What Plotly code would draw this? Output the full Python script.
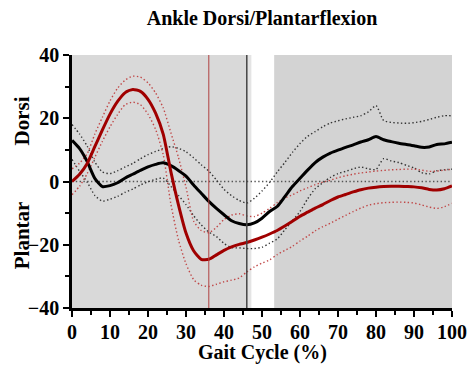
import plotly.graph_objects as go

gait = list(range(0, 101, 2))

red_mean = [0, 2.3, 5.7, 11.0, 16.3, 21.3, 25.3, 28.1, 29.1, 28.5,
            26.0, 21.6, 15.0, 3.2, -7.3, -16.3, -21.9, -24.6, -24.6, -23.2,
            -21.8, -20.7, -19.9, -19.3, -18.5, -17.6, -16.6, -15.5, -14.1, -12.6,
            -11.0, -9.7, -8.4, -7.3, -6.0, -4.9, -4.1, -3.3, -2.6, -2.1,
            -1.8, -1.6, -1.5, -1.5, -1.6, -1.7, -2.0, -2.5, -2.7, -2.3, -1.4]
red_upper = [4.0, 5.8, 8.8, 15.0, 20.3, 25.5, 29.5, 32.1, 33.3, 33.0,
             31.2, 28.0, 23.3, 15.5, 7.7, -1.8, -12.5, -15.5, -16.2, -14.5,
             -12.0, -10.6, -10.2, -10.9, -11.1, -10.0, -8.5, -6.7, -5.2, -4.2,
             -3.0, -2.0, -1.0, -0.2, 0.4, 1.2, 1.8, 2.3, 2.7, 3.0,
             3.3, 3.5, 3.7, 3.8, 3.9, 3.9, 3.6, 3.2, 3.3, 3.6, 3.9]
red_lower = [-4.2, -1.5, 2.5, 7.6, 12.7, 17.3, 21.2, 24.3, 25.1, 24.3,
             21.3, 16.5, 8.5, -7.0, -18.4, -26.0, -31.0, -32.8, -33.2, -32.5,
             -31.7, -31.2, -30.5, -28.6, -27.0, -25.8, -24.8, -23.1, -21.8, -20.5,
             -18.8, -17.3, -15.6, -14.3, -13.2, -11.9, -10.7, -9.5, -8.4, -7.5,
             -7.0, -6.7, -6.6, -6.5, -6.6, -6.8, -7.4, -8.1, -8.5, -8.0, -6.9]

black_mean = [13.0, 10.4, 6.3, 1.0, -1.6, -1.3, -0.4, 1.1, 2.3, 3.5,
              4.6, 5.4, 5.9, 5.0, 3.5, 1.7, -1.1, -3.7, -6.3, -8.5,
              -10.5, -12.4, -13.3, -13.7, -13.1, -11.6, -9.5, -7.9, -4.8, -1.6,
              1.0, 3.6, 6.0, 7.7, 9.0, 9.9, 10.8, 11.6, 12.5, 13.2,
              14.2, 13.2, 12.6, 12.1, 11.7, 11.3, 10.8, 10.9, 11.7, 11.9, 12.4]
black_upper = [18.0, 15.0, 11.2, 6.2, 3.0, 2.5, 3.4, 4.6, 5.7, 7.2,
               8.5, 9.5, 10.4, 11.0, 10.5, 9.4, 7.5, 5.3, 3.3, 0.5,
               -2.5, -4.5, -6.0, -6.8, -5.3, -3.0, -0.3, 3.0, 6.0, 9.2,
               12.0, 14.3, 15.8, 17.3, 18.5, 19.2, 19.8, 20.3, 20.8, 22.0,
               24.0, 19.3, 18.7, 18.5, 18.4, 18.6, 19.0, 19.6, 20.3, 20.8, 20.8]
black_lower = [7.0, 3.2, -0.2, -4.4, -6.2, -5.6, -4.7, -3.4, -2.4, -1.1,
               -0.1, 0.7, 1.1, -1.5, -4.4, -7.3, -10.8, -13.7, -16.0, -17.4,
               -19.6, -20.9, -21.0, -21.2, -21.2, -20.8, -19.5, -18.2, -15.3, -12.4,
               -9.5, -5.5, -2.3, -0.4, 1.3, 2.5, 3.2, 4.0, 4.6, 4.0,
               3.8, 7.2, 6.5, 6.0, 5.1, 4.3, 2.8, 2.4, 3.4, 3.7, 3.9]

stance_red_end = 47.2
stance_black_end = 46.0
swing_start = 53.2
red_event = 36.0
black_event = 46.0

x_ticks = list(range(0, 101, 10))
y_ticks = [-40, -20, 0, 20, 40]

SERIF = "Liberation Serif"
RED = "#a00000"
RED_BAND = "#c04848"
BLK_BAND = "#333333"
DOT = "1.4px,2.4px"

fig = go.Figure()

# shading
fig.add_shape(type="rect", xref="x", yref="y", x0=0, x1=stance_red_end, y0=-40, y1=40,
              fillcolor="#e4e4e4", line_width=0, layer="below")
fig.add_shape(type="rect", xref="x", yref="y", x0=0, x1=stance_black_end, y0=-40, y1=40,
              fillcolor="#d9d9d9", line_width=0, layer="below")
fig.add_shape(type="rect", xref="x", yref="y", x0=swing_start, x1=100, y0=-40, y1=40,
              fillcolor="#d3d3d3", line_width=0, layer="below")
# zero line
fig.add_shape(type="line", xref="x", yref="y", x0=0, x1=100, y0=0, y1=0,
              line=dict(color="#555555", width=1.3, dash=DOT), layer="below")
# event lines
fig.add_shape(type="line", xref="x", yref="y", x0=red_event, x1=red_event, y0=-40, y1=40,
              line=dict(color="#b04040", width=1))
fig.add_shape(type="line", xref="x", yref="y", x0=black_event, x1=black_event, y0=-40, y1=40,
              line=dict(color="#444444", width=1.5))

for ys in (black_upper, black_lower):
    fig.add_trace(go.Scatter(x=gait, y=ys, mode="lines", line=dict(color=BLK_BAND, width=1.4, dash=DOT, shape="spline", smoothing=0.6), hoverinfo="skip"))
for ys in (red_upper, red_lower):
    fig.add_trace(go.Scatter(x=gait, y=ys, mode="lines", line=dict(color=RED_BAND, width=1.4, dash=DOT, shape="spline", smoothing=0.6), hoverinfo="skip"))
fig.add_trace(go.Scatter(x=gait, y=black_mean, mode="lines", line=dict(color="black", width=3, shape="spline", smoothing=0.6)))
fig.add_trace(go.Scatter(x=gait, y=red_mean, mode="lines", line=dict(color=RED, width=3, shape="spline", smoothing=0.6)))

tickfont = dict(family=SERIF, size=20, color="black", weight="bold")

fig.update_layout(
    width=467, height=368,
    margin=dict(l=72, r=15, t=55, b=60),
    paper_bgcolor="white", plot_bgcolor="white",
    showlegend=False,
    title=dict(text="Ankle Dorsi/Plantarflexion", x=0.5, xref="paper", xanchor="center",
               y=1 - 18 / 368, yanchor="middle",
               font=dict(family=SERIF, size=20, color="black", weight="bold")),
    xaxis=dict(range=[0, 100], tickvals=x_ticks, showgrid=False, zeroline=False, automargin=False,
               showline=True, linecolor="black", linewidth=2.5,
               ticks="outside", ticklen=6, tickwidth=2, tickcolor="black",
               minor=dict(dtick=5, ticks="outside", ticklen=4, tickwidth=2, tickcolor="black"),
               tickfont=tickfont, ticklabelstandoff=-2),
    yaxis=dict(range=[-40, 40], tickvals=y_ticks, showgrid=False, zeroline=False, automargin=False,
               showline=True, linecolor="black", linewidth=2.5,
               ticks="outside", ticklen=6, tickwidth=2, tickcolor="black",
               minor=dict(dtick=10, ticks="outside", ticklen=4, tickwidth=2, tickcolor="black"),
               tickfont=tickfont),
)

fig.add_annotation(text="Gait Cycle (%)", xref="paper", yref="paper", x=0.5, y=0, yshift=-44,
                   xanchor="center", yanchor="middle", showarrow=False,
                   font=dict(family=SERIF, size=20, color="black", weight="bold"))
fig.add_annotation(text="Dorsi", xref="paper", yref="y", x=0, y=19, xshift=-50,
                   xanchor="center", yanchor="middle", textangle=-90, showarrow=False,
                   font=dict(family=SERIF, size=21, color="black", weight="bold"))
fig.add_annotation(text="Plantar", xref="paper", yref="y", x=0, y=-17, xshift=-50,
                   xanchor="center", yanchor="middle", textangle=-90, showarrow=False,
                   font=dict(family=SERIF, size=21, color="black", weight="bold"))

fig.write_html("out.html")
